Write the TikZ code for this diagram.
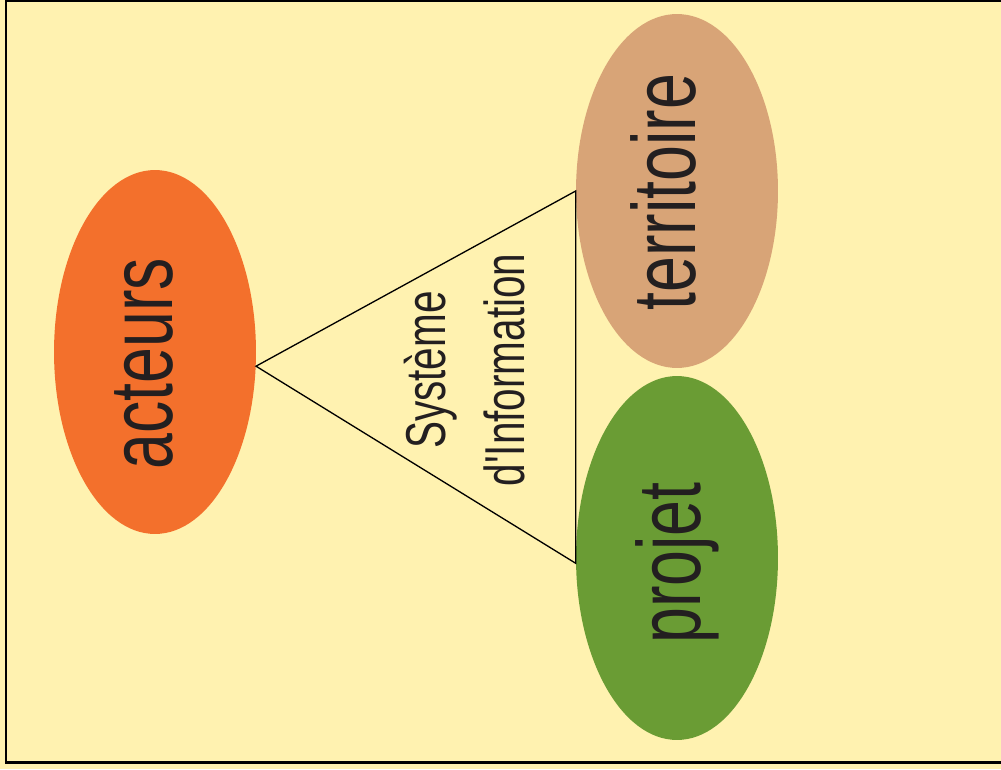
\documentclass[tikz,border=0pt]{standalone}
\usepackage{fontspec}
\newfontfamily\narrowfont{Liberation Sans}[FakeStretch=0.72]
\usetikzlibrary{shapes.geometric}

\definecolor{fond}{HTML}{FFF2B0}
\definecolor{orangeact}{HTML}{F3702C}
\definecolor{beigeterr}{HTML}{D8A477}
\definecolor{vertproj}{HTML}{6A9C34}
\definecolor{encre}{HTML}{231F20}

\begin{document}
\begin{tikzpicture}[x=0.02cm, y=0.02cm,
    bulle/.style={ellipse, draw=none, inner sep=0pt, minimum width=4.04cm, minimum height=7.28cm},
    gros/.style={rotate=90, anchor=base, inner sep=0pt, text=encre, font=\narrowfont\fontsize{51}{60}\selectfont}]
      \useasboundingbox (0,0) rectangle (1001,769);
      \clip (0,0) rectangle (1001,769);
      \fill[fond] (0,0) rectangle (1001,769);
      \draw[line width=1.7pt] (6,768.8) rectangle (1020,6.5);
      % les trois bulles
      \node[bulle, fill=orangeact] (acteurs) at (155,417) {};
      \node[bulle, fill=beigeterr, minimum height=7.08cm] (territoire) at (677,578) {};
      \node[bulle, fill=vertproj] (projet) at (677,211) {};
      \node[gros] (acteurs-txt) at (172,405) {acteurs};
      \node[gros] (territoire-txt) at (695,577) {territoire};
      \node[gros] (projet-txt) at (700,206) {projet};
      % le triangle
      \draw[line width=0.75pt] (acteurs.-8.5) -- (territoire.west) -- (projet.183) -- cycle;
      \node[rotate=90, align=center, inner sep=0pt, text=encre,
            font=\narrowfont\fontsize{32}{45.4}\selectfont] (si) at (464.5,399) {Système\\d'Information};
    \end{tikzpicture}
\end{document}
